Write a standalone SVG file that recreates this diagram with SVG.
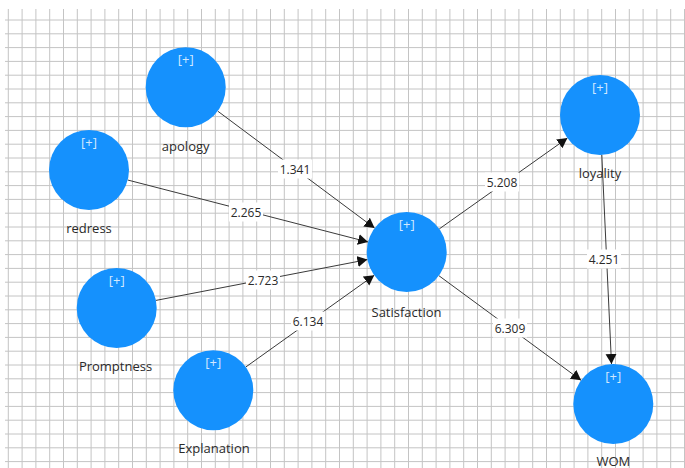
<svg xmlns="http://www.w3.org/2000/svg" width="685" height="468" viewBox="0 0 685 468">
<style>
.node{fill:#1591fd;}
.plus{font-family:"Open Sans","Noto Sans",sans-serif;font-size:13px;fill:#d3e9ff;text-anchor:middle;}
.lbl{font-family:"Open Sans","Noto Sans",sans-serif;font-size:13px;fill:#2a2a2a;text-anchor:middle;}
.edge{stroke:#3a3a3a;stroke-width:1;fill:none;marker-end:url(#arr);}
.ebox{fill:#ffffff;}
.etxt{font-family:"Open Sans","Noto Sans",sans-serif;font-size:12px;fill:#2a2a2a;text-anchor:middle;}
.grid{stroke:#c4c4c4;stroke-width:1;fill:none;}
</style>
<defs>
<marker id="arr" markerUnits="userSpaceOnUse" markerWidth="11" markerHeight="12" refX="10" refY="5.5" orient="auto">
<path d="M0,0 L10,5.5 L0,11 z" fill="#111"/>
</marker>
</defs>
<rect width="685" height="468" fill="#ffffff"/>
<g id="grid">
<path class="grid" d="M8.3,9V468M22.1,9V468M35.9,9V468M49.7,9V468M63.5,9V468M77.3,9V468M91.1,9V468M104.9,9V468M118.7,9V468M132.5,9V468M146.3,9V468M160.1,9V468M173.9,9V468M187.7,9V468M201.5,9V468M215.3,9V468M229.1,9V468M242.9,9V468M256.7,9V468M270.5,9V468M284.3,9V468M298.1,9V468M311.9,9V468M325.7,9V468M339.5,9V468M353.3,9V468M367.1,9V468M380.9,9V468M394.7,9V468M408.5,9V468M422.3,9V468M436.1,9V468M449.9,9V468M463.7,9V468M477.5,9V468M491.3,9V468M505.1,9V468M518.9,9V468M532.7,9V468M546.5,9V468M560.3,9V468M574.1,9V468M587.9,9V468M601.7,9V468M615.5,9V468M629.3,9V468M643.1,9V468M656.9,9V468M670.7,9V468M684.5,9V468"/>
<path class="grid" d="M5,20H685M5,33.8H685M5,47.6H685M5,61.4H685M5,75.2H685M5,89H685M5,102.8H685M5,116.6H685M5,130.4H685M5,144.2H685M5,158H685M5,171.8H685M5,185.6H685M5,199.4H685M5,213.2H685M5,227H685M5,240.8H685M5,254.6H685M5,268.4H685M5,282.2H685M5,296H685M5,309.8H685M5,323.6H685M5,337.4H685M5,351.2H685M5,365H685M5,378.8H685M5,392.6H685M5,406.4H685M5,420.2H685M5,434H685M5,447.8H685M5,461.6H685"/>
</g>
<g id="connectors">
<line class="edge" x1="217.8" y1="111.2" x2="374.6" y2="228.1"/>
<line class="edge" x1="127.7" y1="180" x2="368" y2="242"/>
<line class="edge" x1="156" y1="300.4" x2="367.4" y2="259.6"/>
<line class="edge" x1="245.8" y1="367" x2="374.2" y2="275.3"/>
<line class="edge" x1="439.3" y1="228.9" x2="567.4" y2="138.1"/>
<line class="edge" x1="438.9" y1="275.7" x2="581.1" y2="380.3"/>
<line class="edge" x1="601.8" y1="155" x2="611.5" y2="364"/>
<rect class="ebox" x="278" y="159.5" width="34" height="19"/><text class="etxt" x="295" y="173.5">1.341</text>
<rect class="ebox" x="229" y="202.5" width="34" height="19"/><text class="etxt" x="246" y="216.5">2.265</text>
<rect class="ebox" x="246" y="270.5" width="34" height="19"/><text class="etxt" x="263" y="284.5">2.723</text>
<rect class="ebox" x="291" y="311.5" width="34" height="19"/><text class="etxt" x="308" y="325.5">6.134</text>
<rect class="ebox" x="485" y="172.5" width="34" height="19"/><text class="etxt" x="502" y="186.5">5.208</text>
<rect class="ebox" x="493" y="318.5" width="34" height="19"/><text class="etxt" x="510" y="332.5">6.309</text>
<rect class="ebox" x="587" y="249.5" width="34" height="19"/><text class="etxt" x="604" y="263.5">4.251</text>
</g>
<g id="apology"><circle class="node" cx="185.7" cy="87.3" r="40"/><text class="plus" x="185.7" y="63.8">[+]</text><text class="lbl" x="185.7" y="151.3">apology</text></g>
<g id="redress"><circle class="node" cx="89" cy="170" r="40"/><text class="plus" x="89" y="146.5">[+]</text><text class="lbl" x="89" y="233">redress</text></g>
<g id="Promptness"><circle class="node" cx="116.7" cy="308" r="40"/><text class="plus" x="116.7" y="284.5">[+]</text><text class="lbl" x="115.5" y="371">Promptness</text></g>
<g id="Explanation"><circle class="node" cx="213.3" cy="390.3" r="40"/><text class="plus" x="213.3" y="366.8">[+]</text><text class="lbl" x="214" y="453.3">Explanation</text></g>
<g id="Satisfaction"><circle class="node" cx="406.7" cy="252" r="40"/><text class="plus" x="406.7" y="228.5">[+]</text><text class="lbl" x="406.5" y="316.5">Satisfaction</text></g>
<g id="loyality"><circle class="node" cx="600" cy="115" r="40"/><text class="plus" x="600" y="91.5">[+]</text><text class="lbl" x="600" y="178.3">loyality</text></g>
<g id="WOM"><circle class="node" cx="613.3" cy="404" r="40"/><text class="plus" x="613.3" y="380.5">[+]</text><text class="lbl" x="613.3" y="465.5">WOM</text></g>
</svg>
